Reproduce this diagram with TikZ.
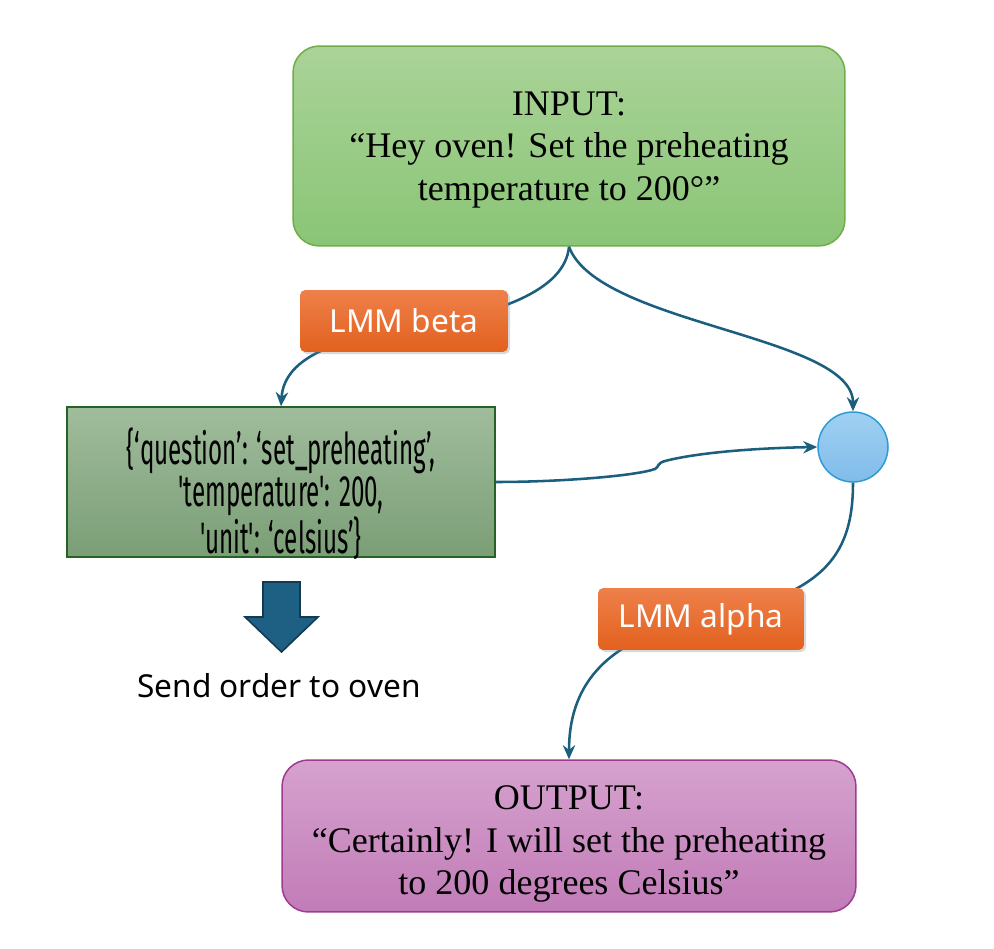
\documentclass[tikz,border=0pt]{standalone}
\usepackage{fontspec}
\setmainfont{Liberation Serif}
\newfontfamily\labelfont{Noto Sans}
\newfontfamily\codefont[FakeStretch=0.55]{Fira Sans}
\usetikzlibrary{arrows.meta,shadows,shapes.geometric}
\definecolor{inTop}{RGB}{170,211,152}
\definecolor{inBot}{RGB}{138,197,118}
\definecolor{inBorder}{RGB}{112,173,71}
\definecolor{codeTop}{RGB}{160,188,156}
\definecolor{codeBot}{RGB}{122,158,118}
\definecolor{codeBorder}{RGB}{38,98,38}
\definecolor{outTop}{RGB}{214,162,206}
\definecolor{outBot}{RGB}{193,124,183}
\definecolor{outBorder}{RGB}{158,58,143}
\definecolor{orTop}{RGB}{238,128,74}
\definecolor{orBot}{RGB}{226,97,30}
\definecolor{circTop}{RGB}{160,208,242}
\definecolor{circBot}{RGB}{128,188,234}
\definecolor{circBorder}{RGB}{46,155,214}
\definecolor{conn}{RGB}{27,94,126}
\definecolor{blockFill}{RGB}{30,95,132}
\definecolor{blockBorder}{RGB}{20,58,82}
\tikzset{
  bigbox/.style={rounded corners=15pt, line width=0.85pt, align=center, inner sep=0pt,
    font=\fontsize{20.5}{24}\selectfont},
  tag/.style={rounded corners=3pt, top color=orTop, bottom color=orBot, text=white,
    font=\labelfont\fontsize{18}{20}\selectfont, inner sep=0pt,
    minimum height=1.24cm, drop shadow={opacity=0.3, shadow xshift=1.2pt, shadow yshift=-1.2pt}},
  link/.style={draw=conn, line width=1.45pt, -{Stealth[length=8pt,width=7pt]}},
}
\begin{document}
\begin{tikzpicture}[x=0.02cm,y=-0.02cm]
\useasboundingbox (0,0) rectangle (994,949);
% input
\node[bigbox, draw=inBorder, top color=inTop, bottom color=inBot,
  minimum width=11.04cm, minimum height=4cm] (in) at (569,146) {};
\node[align=center, inner sep=0pt, font=\fontsize{20.5}{24}\selectfont] (intext) at (569,150)
  {INPUT:\\``Hey oven! Set the preheating\\temperature to 200°''};
% code box
\node[draw=codeBorder, line width=0.85pt, top color=codeTop, bottom color=codeBot,
  minimum width=8.56cm, minimum height=3cm, inner sep=0pt] (code) at (281,482) {};
\node[align=center, inner sep=0pt, font=\codefont\fontsize{25}{21.5}\selectfont] (codetext) at (281,494)
  {\{‘question’: ‘set\_preheating’,\\ 'temperature': 200,\\ 'unit': ‘celsius’\}};
% circle
\node[circle, draw=circBorder, line width=0.85pt, top color=circTop, bottom color=circBot,
  minimum size=1.4cm, inner sep=0pt] (merge) at (853,447) {};
% output
\node[bigbox, draw=outBorder, top color=outTop, bottom color=outBot,
  minimum width=11.48cm, minimum height=3.04cm] (out) at (569,836) {};
\node[align=center, inner sep=0pt, font=\fontsize{20.5}{24}\selectfont] (outtext) at (569,844)
  {OUTPUT:\\``Certainly! I will set the preheating\\to 200 degrees Celsius''};
% connectors
\coordinate (bmid) at (400,330);
\coordinate (amid) at (700,620);
\draw[link] (in.south) .. controls (565,290) and (500,315) .. (bmid)
  .. controls (330,340.5) and (284,360) .. (code.north);
\draw[link] (in.south) .. controls (598,325) and (853,335) .. (merge.north);
\draw[link] (code.east) .. controls (560,482) and (635,476) .. (655,469)
  .. controls (659,467) and (657,463) .. (665,461)
  .. controls (700,452) and (760,448) .. (merge.west);
\draw[link] (merge.south) .. controls (853,560) and (820,595) .. (amid)
  .. controls (600,640) and (569,690) .. (out.north);
% labels
\node[tag, minimum width=4.16cm] (beta) at (404,321) {LMM beta};
\node[tag, minimum width=4.12cm] (alpha) at (701,619) {LMM alpha};
% block arrow
\draw[fill=blockFill, draw=blockBorder, line width=0.9pt, line join=miter]
  (263,582) -- (300,582) -- (300,617) -- (318,617) -- (281.5,652) -- (245,617) -- (263,617) -- cycle;
\node[font=\labelfont\fontsize{18}{20}\selectfont, inner sep=0pt] (send) at (279,686) {Send order to oven};
\end{tikzpicture}
\end{document}
